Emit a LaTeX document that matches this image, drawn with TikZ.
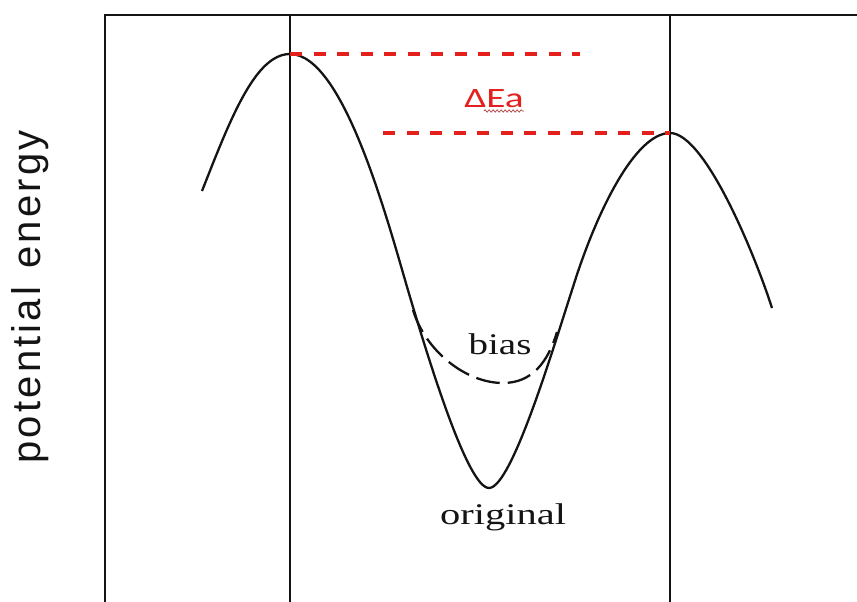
\documentclass[tikz,border=0pt]{standalone}
\usepackage{fontspec}
\setmainfont{Liberation Serif}
\newfontfamily\axisfont[LetterSpace=8]{Liberation Sans}
\newfontfamily\notefont{Carlito}
\usetikzlibrary{calc, decorations.pathmorphing}
\definecolor{inkBlack}{HTML}{141414}
\definecolor{gapRed}{HTML}{E3201B}
\definecolor{squiggleRed}{HTML}{B04848}
\newcommand{\widetext}[2]{\scalebox{#1}[1]{#2}}
\tikzset{
  frameline/.style={line width=2.3pt, draw=inkBlack},
  pesline/.style={line width=2.3pt, draw=inkBlack},
  biasline/.style={line width=2.3pt, draw=inkBlack, dash pattern=on 24pt off 8pt},
  gapline/.style={line width=3.2pt, draw=gapRed, dash pattern=on 12pt off 11.5pt},
  curvelabel/.style={inner sep=0pt, anchor=base, text=inkBlack,
    font=\fontsize{30}{32}\selectfont},
  axislabel/.style={inner sep=0pt, rotate=90, text=inkBlack,
    font=\axisfont\fontsize{40}{44}\selectfont},
  gaplabel/.style={inner sep=0pt, anchor=base, text=gapRed,
    font=\notefont\fontsize{28}{30}\selectfont},
  squiggle/.style={draw=squiggleRed, line width=0.8pt,
    decorate, decoration={snake, amplitude=1.1pt, segment length=4pt}},
}

\begin{document}
\begin{tikzpicture}[x=1pt, y=-1pt]
  \useasboundingbox (0,0) rectangle (857,602);

  % === Frame ===
  \coordinate (frameTL) at (105,15);
  \coordinate (frameTR) at (857,15);
  \coordinate (frameBL) at (105,602);
  \draw[frameline] (frameBL) -- (frameTL) -- (frameTR);

  % === Potential energy curve ===
  \coordinate (startL) at (202,191);
  \coordinate (peakL) at (290,54);
  \coordinate (bendL) at (410,297);
  \coordinate (wellMin) at (489,488);
  \coordinate (bendR) at (573,287);
  \coordinate (peakR) at (670,133);
  \coordinate (endR) at (772,308);
  \draw[pesline] (startL) .. controls (230,120) and (255,54) .. (peakL)
    .. controls (345,54) and (390,230) .. (bendL)
    .. controls (430,364) and (468,488) .. (wellMin)
    .. controls (512,488) and (555,342) .. (bendR)
    .. controls (596,213) and (635,133) .. (peakR)
    .. controls (705,133) and (755,255) .. (endR);

  % === Biased well ===
  \coordinate (biasL) at (413,310);
  \coordinate (biasMin) at (503,383);
  \coordinate (biasR) at (557,332);
  \draw[biasline] (biasL) .. controls (425,350) and (465,383) .. (biasMin)
    .. controls (532,383) and (548,362) .. (biasR);

  % === Vertical lines through the barrier tops ===
  \draw[frameline] (peakL |- frameTL) -- (peakL |- frameBL);
  \draw[frameline] (peakR |- frameTL) -- (peakR |- frameBL);

  % === Barrier difference ===
  \coordinate (gapTopEnd) at (580,54);
  \coordinate (gapLowStart) at (383,133);
  \draw[gapline] (peakL) -- (gapTopEnd);
  \draw[gapline] (gapLowStart) -- (peakR);
  \node[gaplabel] (dEa) at (494,107) {\widetext{1.4}{ΔEa}};
  \draw[squiggle] ($(dEa.base east)+(-40,4)$) -- ($(dEa.base east)+(0,4)$);

  % === Labels ===
  \node[curvelabel] (biasLbl) at (500,354) {\widetext{1.3}{bias}};
  \node[curvelabel] (origLbl) at (503,524) {\widetext{1.35}{original}};
  \node[axislabel] (axisLbl) at (30,297) {potential\hspace{0.45em}energy};

\end{tikzpicture}
\end{document}
